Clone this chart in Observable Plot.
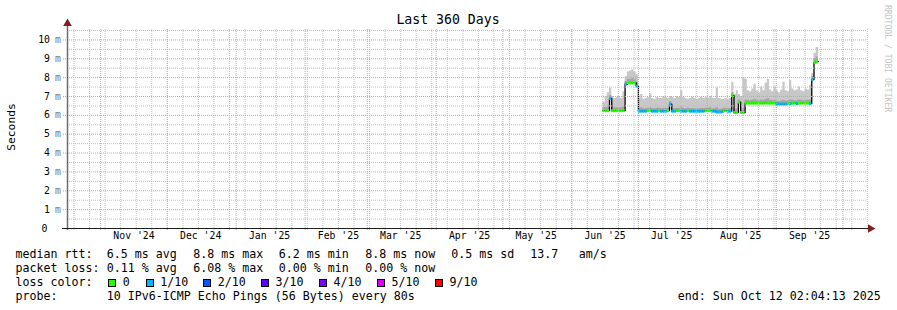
<!DOCTYPE html>
<html><head><meta charset="utf-8">
<script src="https://cdn.jsdelivr.net/npm/d3@7"></script>
<script src="https://cdn.jsdelivr.net/npm/@observablehq/plot@0.6"></script>
<style>
html,body{margin:0;padding:0;background:#fff;}
#wrap{position:relative;width:897px;height:310px;overflow:hidden;font-family:"DejaVu Sans Mono",monospace;color:#000;background:#fff;}
#wrap svg{position:absolute;left:0;top:0;}
.t{position:absolute;white-space:pre;font-size:11.63px;line-height:14px;}
.sq{position:absolute;width:6px;height:6px;border:1px solid #000;}
.title{position:absolute;left:448px;top:19px;transform:translate(-50%,-50%);font-size:13.2px;white-space:pre;}
.ylab{position:absolute;left:11px;top:127px;transform:translate(-50%,-50%) rotate(-90deg);font-size:11.3px;white-space:pre;}
.wm{position:absolute;left:892px;top:5px;transform-origin:left top;transform:rotate(90deg);font-size:8.1px;line-height:8px;color:#c4c4c4;white-space:pre;}
</style></head><body><div id="wrap"></div>
<script>
// ---- data (one value per day, starting on startDay) ----
const startDay = "2025-06-15";
const median = [
  6.25,6.25,6.25,6.90,6.25,6.25,6.25,6.25,6.25,6.25,
  7.65,7.72,7.72,7.72,7.72,7.55,
  6.22,6.22,6.22,6.22,6.25,6.25,6.22,6.22,6.22,6.25,6.22,6.22,6.22,6.25,
  6.60,6.22,6.22,6.25,6.25,6.22,6.22,6.22,6.25,6.22,6.22,6.22,6.22,6.22,6.22,6.22,
  6.25,6.25,6.25,6.22,6.22,6.18,6.18,6.18,6.25,6.25,6.22,6.22,
  7.05,6.15,6.15,6.70,6.15,6.15,6.65,
  6.65,6.65,6.65,6.65,6.65,6.65,6.65,6.65,6.65,6.65,6.65,6.65,6.65,
  6.60,6.60,6.60,6.60,6.60,6.65,6.62,6.65,6.65,6.62,6.65,6.65,6.65,6.65,6.65,6.62,
  7.90,8.80,8.85
];
const smokeHigh = [
  6.70,7.00,7.20,7.45,7.00,6.90,6.95,7.00,6.90,7.25,
  8.05,8.30,8.35,8.40,8.30,8.15,
  6.90,7.10,6.85,6.90,6.95,7.15,6.90,6.85,6.95,6.90,6.90,7.00,6.95,6.90,
  7.00,6.95,6.90,7.00,6.95,7.30,6.95,6.90,6.85,6.90,6.95,6.90,6.85,6.90,6.95,6.90,
  6.95,6.90,7.00,6.90,6.90,7.45,6.90,6.85,6.85,6.90,6.85,6.90,
  7.75,7.10,7.30,7.10,7.00,8.00,7.90,
  7.30,7.25,7.40,7.65,7.30,7.20,7.50,7.30,7.70,7.90,7.35,7.25,7.50,
  7.30,7.20,7.35,7.75,7.30,7.25,7.85,7.40,7.30,7.35,7.50,7.30,7.25,7.40,7.35,7.60,
  8.20,9.30,9.60
];
const smokeMid = [
  6.40,6.40,6.45,7.05,6.40,6.40,6.40,6.40,6.40,6.45,
  7.80,7.90,7.90,7.95,7.90,7.75,
  6.35,6.40,6.35,6.35,6.38,6.42,6.35,6.35,6.38,6.38,6.35,6.38,6.36,6.38,
  6.72,6.36,6.35,6.38,6.38,6.45,6.36,6.35,6.38,6.35,6.36,6.35,6.34,6.35,6.36,6.35,
  6.38,6.38,6.40,6.35,6.35,6.40,6.32,6.32,6.38,6.38,6.35,6.36,
  7.20,6.30,6.35,6.82,6.30,6.38,6.82,
  6.80,6.78,6.82,6.85,6.80,6.78,6.82,6.80,6.85,6.88,6.80,6.78,6.82,
  6.75,6.74,6.76,6.80,6.75,6.78,6.82,6.80,6.78,6.78,6.82,6.80,6.78,6.80,6.80,6.82,
  8.05,9.00,9.10
];
const lossLevel = [
  0,0,0,1,0,0,0,0,0,0,
  1,0,0,0,0,1,
  1,1,1,1,0,0,1,1,1,0,1,1,1,0,
  1,1,1,0,0,1,1,1,0,1,1,1,1,1,1,1,
  0,0,0,1,1,1,1,1,0,0,1,1,
  0,0,0,0,0,0,0,
  0,0,0,0,0,0,0,0,0,0,0,0,0,
  1,1,1,1,1,0,1,0,0,1,0,0,0,0,0,1,
  1,0,0
];
const lossColors = ["#26ff00","#00b8ff","#0059ff","#5e00ff","#7e00ff","#dd00ff","#ff0000"];
const lossLabels = ["0","1/10","2/10","3/10","4/10","5/10","9/10"];
const yTickValues = [0,1,2,3,4,5,6,7,8,9,10];
const yTickLabels = ["0","1","2","3","4","5","6","7","8","9","10"];
const yHalfSteps = [0.5,1.5,2.5,3.5,4.5,5.5,6.5,7.5,8.5,9.5,10.5];
const monthTicks = ["2024-11-16","2024-12-16","2025-01-16","2025-02-16","2025-03-16","2025-04-16","2025-05-16","2025-06-16","2025-07-16","2025-08-16","2025-09-16"];
const monthLabels = ["Nov '24","Dec '24","Jan '25","Feb '25","Mar '25","Apr '25","May '25","Jun '25","Jul '25","Aug '25","Sep '25"];
const monthStarts = ["2024-11-01","2024-12-01","2025-01-01","2025-02-01","2025-03-01","2025-04-01","2025-05-01","2025-06-01","2025-07-01","2025-08-01","2025-09-01","2025-10-01"];
const rangeStart = "2024-10-17T02:04:13Z";
const rangeEnd = "2025-10-12T02:04:13Z";

// ---- build tables ----
const DAY = 864e5;
const t0 = new Date(startDay + "T00:00:00Z");
const rows = median.map((m, i) => ({
  date: new Date(+t0 + i * DAY), next: new Date(+t0 + (i + 1) * DAY),
  med: m, hi: smokeHigh[i], mid: smokeMid[i], loss: lossLevel[i]
}));
const lastRow = rows[rows.length - 1];
const series = [...rows, {...lastRow, date: lastRow.next}];
const start = new Date(rangeStart), end = new Date(rangeEnd);
const weeks = d3.utcSunday.range(start, end);
const months = monthStarts.map(s => new Date(s + "T00:00:00Z"));

const gridMinor = {stroke: "#c0c0c0", strokeDasharray: "1,1"};
const gridMajor = {stroke: "#eb9595", strokeDasharray: "1,1"};

const chart = Plot.plot({
  width: 897, height: 250,
  marginLeft: 67, marginRight: 30, marginTop: 29, marginBottom: 22,
  x: {type: "utc", domain: [start, end], axis: null},
  y: {domain: [0, 10.553], axis: null},
  style: {background: "transparent", fontFamily: "'DejaVu Sans Mono', monospace", fontSize: "9.8px", color: "#000", overflow: "visible"},
  marks: [
    Plot.areaY(series, {x: "date", y1: "med", y2: "hi", curve: "step-after", fill: "#c8c8c8"}),
    Plot.areaY(series, {x: "date", y1: "med", y2: "mid", curve: "step-after", fill: "#a4a4a4"}),
    Plot.line(series, {x: "date", y: "med", curve: "step-after", stroke: "#000", strokeWidth: 1.3}),
    Plot.ruleY(rows, {y: "med", x1: "date", x2: "next", stroke: d => lossColors[d.loss], strokeWidth: 3}),
    Plot.ruleY(yHalfSteps, gridMinor),
    Plot.ruleX(weeks, {...gridMinor, insetBottom: -2}),
    Plot.ruleX(months, {...gridMajor, insetBottom: -2}),
    Plot.ruleY(yTickValues.filter(v => v > 0), {...gridMajor, insetLeft: -4}),
    Plot.ruleY([0], {stroke: "#1f1f1f", insetLeft: -5, insetRight: -3}),
    Plot.ruleX([start], {stroke: "#1f1f1f", strokeOpacity: 0.65, strokeWidth: 1.5, insetTop: -5, insetBottom: -2}),
    Plot.dot([0], {frameAnchor: "top-left", dy: -6, symbol: "triangle", r: 3.2, fill: "#801f1f"}),
    Plot.dot([0], {frameAnchor: "bottom-right", dx: 3, symbol: "triangle", rotate: 90, r: 3.2, fill: "#801f1f"}),
    Plot.text(yTickValues.filter(v => v > 0), {y: d => d, text: d => yTickLabels[yTickValues.indexOf(d)], frameAnchor: "left", textAnchor: "end", dx: -17.5, fontSize: 9.8, fill: "#000"}),
    Plot.text(yTickValues.filter(v => v > 0), {y: d => d, text: () => "m", frameAnchor: "left", textAnchor: "start", dx: -12.5, fontSize: 9.8, fill: "#7a7a7a"}),
    Plot.text([0], {y: d => d, text: () => yTickLabels[0], frameAnchor: "left", textAnchor: "end", dx: -20, fontSize: 9.8, fill: "#000"}),
    Plot.text(monthTicks, {x: d => new Date(d + "T00:00:00Z"), text: (d, i) => monthLabels[i], frameAnchor: "bottom", dy: 10, fontSize: 9.8, fill: "#000"})
  ]
});
const wrap = document.getElementById("wrap");
wrap.appendChild(chart);

function addText(txt, left, top, cls = "t") {
  const s = document.createElement("span");
  s.className = cls; s.textContent = txt;
  if (left != null) s.style.left = left + "px";
  if (top != null) s.style.top = top + "px";
  wrap.appendChild(s);
}
const title = document.createElement("div"); title.className = "title"; title.textContent = "Last 360 Days"; wrap.appendChild(title);
const ylab = document.createElement("div"); ylab.className = "ylab"; ylab.textContent = "Seconds"; wrap.appendChild(ylab);
const wm = document.createElement("div"); wm.className = "wm"; wm.textContent = "RRDTOOL / TOBI OETIKER"; wrap.appendChild(wm);

const r1 = 246.8, r2 = 260.8, r3 = 274.8, r4 = 288.8;
addText("median rtt:", 15.5, r1);
addText("6.5 ms avg", 106.8, r1);
addText("8.8 ms max", 193.3, r1);
addText("6.2 ms min", 278.8, r1);
addText("8.8 ms now", 365.2, r1);
addText("0.5 ms sd", 451.2, r1);
addText("13.7", 530.2, r1);
addText("am/s", 578.8, r1);
addText("packet loss:", 15.5, r2);
addText("0.11 % avg", 106.8, r2);
addText("6.08 % max", 193.3, r2);
addText("0.00 % min", 278.8, r2);
addText("0.00 % now", 365.2, r2);
addText("loss color:", 15.5, r3);
const sqLeft = [108.3, 145.7, 203.3, 261, 319, 376.7, 435];
const lblLeft = [122.8, 160.2, 217.8, 275.5, 333.5, 391.5, 449.5];
lossColors.forEach((c, i) => {
  const b = document.createElement("div"); b.className = "sq";
  b.style.left = sqLeft[i] + "px"; b.style.top = "278.5px"; b.style.background = c;
  wrap.appendChild(b);
  addText(lossLabels[i], lblLeft[i], r3);
});
addText("probe:", 15.5, r4);
addText("10 IPv6-ICMP Echo Pings (56 Bytes) every 80s", 106.8, r4);
addText("end: Sun Oct 12 02:04:13 2025", 677.8, r4);
</script></body></html>
